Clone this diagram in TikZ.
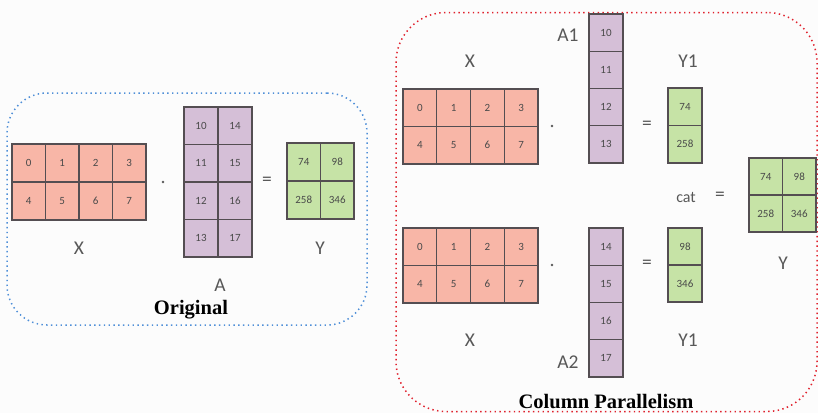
\documentclass[tikz,border=0pt]{standalone}
\usepackage{fontspec}
\setmainfont{Liberation Serif}
\newfontfamily\lblfont{Carlito}
\definecolor{bgc}{HTML}{FCFCFC}
\definecolor{xred}{HTML}{F8B6A7}
\definecolor{apurple}{HTML}{D5BFD7}
\definecolor{ygreen}{HTML}{C6E3A6}
\definecolor{edgec}{HTML}{544E52}
\definecolor{numc}{HTML}{4A4A4A}
\definecolor{lblc}{HTML}{585858}
\definecolor{bluedot}{HTML}{4F8FD8}
\definecolor{reddot}{HTML}{E0202C}

% one matrix: #1 name, #2 left, #3 top, #4 cell width, #5 cell height, #6 fill, #7 entries row/col/value
\newcommand\mgrid[7]{%
  \foreach \r/\c/\v in {#7}{%
    \node[cell,fill=#6,minimum width=#4pt,minimum height=#5pt]
      (#1-\r-\c) at ({#2+(\c+0.5)*#4},{#3+(\r+0.5)*#5}) {\v};
  }}

\tikzset{
  cell/.style={rectangle,draw=edgec,line width=1.4pt,inner sep=0pt,
    font=\lblfont\fontsize{11}{11}\selectfont,text=numc},
  lbl/.style={font=\lblfont\fontsize{19.5}{19.5}\selectfont,text=lblc,inner sep=0pt},
  small/.style={font=\lblfont\fontsize{16}{16}\selectfont,text=lblc,inner sep=0pt},
  dotop/.style={circle,fill=lblc,inner sep=0pt,minimum size=2.6pt},
  title/.style={font=\bfseries\fontsize{20.5}{20.5}\selectfont,text=black,inner sep=0pt},
  groupbox/.style={rectangle,line width=1.5pt,dash pattern=on 1.4pt off 3.4pt,
    inner sep=0pt},
}

\begin{document}
\begin{tikzpicture}[x=1pt,y=-1pt]
\useasboundingbox (0,0) rectangle (818,413);
\fill[bgc] (0,0) rectangle (818,413);

% frames of the two groups
\node[groupbox,draw=bluedot,rounded corners=40pt,minimum width=360pt,minimum height=232pt]
  (origbox) at (187,209) {};
\node[groupbox,draw=reddot,rounded corners=50pt,minimum width=421pt,minimum height=399pt]
  (colbox) at (606.5,212) {};

% ---- original product ----
\mgrid{x0}{12}{144}{33.5}{38}{xred}{0/0/0,0/1/1,0/2/2,0/3/3,1/0/4,1/1/5,1/2/6,1/3/7}
\mgrid{a0}{184}{107}{34}{37.5}{apurple}{0/0/10,0/1/14,1/0/11,1/1/15,2/0/12,2/1/16,3/0/13,3/1/17}
\mgrid{y0}{287}{143}{33.5}{38}{ygreen}{0/0/74,0/1/98,1/0/258,1/1/346}
\node[dotop] (dot0) at (163,182) {};
\node[lbl] (eq0) at (267,181) {=};
\node[lbl] (xl0) at (79,248) {X};
\node[lbl] (al0) at (220,285) {A};
\node[lbl] (yl0) at (320,248) {Y};
\node[title] (origt) at (191,310) {Original};

% ---- column parallel, first half ----
\mgrid{x1}{403}{89}{33.75}{37.5}{xred}{0/0/0,0/1/1,0/2/2,0/3/3,1/0/4,1/1/5,1/2/6,1/3/7}
\mgrid{a1}{589}{14}{34}{37.25}{apurple}{0/0/10,1/0/11,2/0/12,3/0/13}
\mgrid{y1}{668}{88}{34}{37.5}{ygreen}{0/0/74,1/0/258}
\node[dotop] (dot1) at (552,126) {};
\node[lbl] (eq1) at (647,125) {=};
\node[lbl] (xl1) at (470,61) {X};
\node[lbl] (al1) at (568,35) {A1};
\node[lbl] (yl1) at (688,61) {Y1};

% ---- column parallel, second half ----
\mgrid{x2}{403}{228}{33.75}{37.5}{xred}{0/0/0,0/1/1,0/2/2,0/3/3,1/0/4,1/1/5,1/2/6,1/3/7}
\mgrid{a2}{589}{228}{34}{37.25}{apurple}{0/0/14,1/0/15,2/0/16,3/0/17}
\mgrid{y2}{668}{228}{34}{37}{ygreen}{0/0/98,1/0/346}
\node[dotop] (dot2) at (552,265) {};
\node[lbl] (eq2) at (647,264) {=};
\node[lbl] (xl2) at (470,340) {X};
\node[lbl] (al2) at (568,362) {A2};
\node[lbl] (yl2) at (688,340) {Y1};

% ---- concatenation ----
\node[small] (cat) at (686,197) {cat};
\node[lbl] (eq3) at (720,196) {=};
\mgrid{y3}{749}{158}{33.5}{37}{ygreen}{0/0/74,0/1/98,1/0/258,1/1/346}
\node[lbl] (yl3) at (783,263) {Y};
\node[title] (colt) at (606,402) {Column Parallelism};
\end{tikzpicture}
\end{document}
